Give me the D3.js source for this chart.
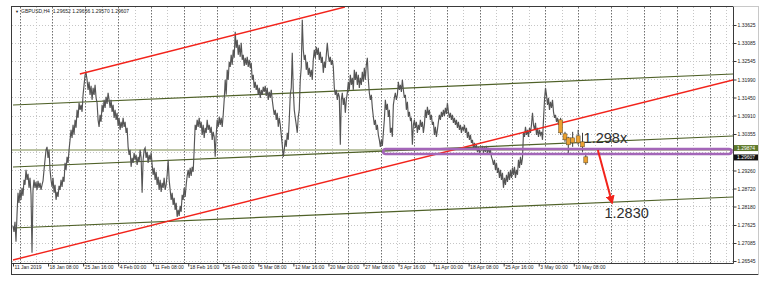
<!DOCTYPE html>
<html>
<head>
<meta charset="utf-8">
<script src="https://cdn.jsdelivr.net/npm/d3@7"></script>
<style>
  html, body { margin: 0; padding: 0; background: #fff; }
  svg { display: block; font-family: "Liberation Sans", Arial, sans-serif; }
</style>
</head>
<body>
<svg id="chart" width="771" height="283"></svg>
<script>
// ---- header / axis labels ----
const headerText = "GBPUSD,H4  1.29652 1.29656 1.29570 1.29607"
const priceTicks = [1.33625, 1.33085, 1.32545, 1.31990, 1.31450, 1.30910, 1.30355,
                    1.29260, 1.28720, 1.28180, 1.27625, 1.27085, 1.26545]
const gridOnlyPrices = [1.29815]
const dateLabels = ["11 Jan 2019", "18 Jan 08:00", "25 Jan 16:00", "4 Feb 00:00", "11 Feb 08:00",
                    "18 Feb 16:00", "26 Feb 00:00", "5 Mar 08:00", "12 Mar 16:00", "20 Mar 00:00",
                    "27 Mar 08:00", "3 Apr 16:00", "11 Apr 00:00", "18 Apr 08:00", "25 Apr 16:00",
                    "3 May 00:00", "10 May 08:00"]
const barsPerLabel = 32      // H4 bars between two time labels
const firstMondayBar = 6     // 14 Jan 00:00
const barsPerWeek = 30

// ---- GBPUSD H4 price path (evenly spaced over bars 0..499) ----
const pricesJan = [1.2760,1.2742,1.2772,1.2712,1.2793,1.2859,1.2829,1.2868,1.2838,1.2874,
  1.2850,1.2898,1.2883,1.2928,1.2898,1.2916,1.2874,1.2904,1.2853,1.2679,
  1.2868,1.2898,1.2874,1.2892,1.2868,1.2895,1.2874,1.2889,1.2868,1.2883,
  1.2895,1.2928,1.2958,1.2988,1.2997,1.2964,1.2988,1.2928,1.2898,1.2877,
  1.2904,1.2859,1.2883,1.2838,1.2862,1.2847,1.2880,1.2868,1.2898,1.2877,
  1.2907,1.2892,1.2949,1.2928,1.2967,1.2949,1.2988,1.3018,1.3048,1.3024,
  1.3063,1.3033,1.3078,1.3054,1.3108,1.3084,1.3129,1.3108,1.3123,1.3102,
  1.3153,1.3183,1.3213,1.3219,1.3198,1.3168,1.3192,1.3153,1.3180,1.3138,
  1.3174,1.3153,1.3183,1.3144,1.3129,1.3078,1.3057,1.3093,1.3072,1.3123,
  1.3102,1.3138,1.3114,1.3147,1.3126,1.3159,1.3138,1.3114,1.3138,1.3102,
  1.3123,1.3084,1.3108,1.3078,1.3099]
const pricesFeb = [1.3060,1.3084,1.3048,1.3072,1.3054,1.3084,1.3057,1.3072,1.3039,1.3054,
  1.2997,1.2973,1.2988,1.2937,1.2964,1.2949,1.2979,1.2958,1.2973,1.2943,
  1.2967,1.2952,1.2988,1.2964,1.2859,1.2958,1.2988,1.2994,1.2964,1.2982,
  1.2949,1.2973,1.2958,1.2979,1.2943,1.2913,1.2934,1.2898,1.2922,1.2883,
  1.2907,1.2868,1.2898,1.2862,1.2889,1.2874,1.2904,1.2868,1.2883,1.2913,
  1.2958,1.2898,1.2868,1.2838,1.2859,1.2823,1.2844,1.2808,1.2829,1.2787,
  1.2808,1.2790,1.2820,1.2802,1.2853,1.2838,1.2874,1.2847,1.2883,1.2910,
  1.2928,1.2904,1.2934,1.2910,1.2937,1.2922,1.2988,1.3063,1.3048,1.3078,
  1.3057,1.3084,1.3054,1.3072,1.3033,1.3063,1.3024,1.3054,1.3039,1.3078,
  1.3048,1.3063,1.3039,1.3057,1.3018,1.3042,1.3027,1.2967,1.3033,1.3078,
  1.3057,1.3087,1.3063,1.3084,1.3057,1.3093,1.3138,1.3198,1.3153,1.3228]
const pricesMar = [1.3198,1.3252,1.3237,1.3273,1.3243,1.3288,1.3264,1.3342,1.3294,1.3318,
  1.3273,1.3303,1.3267,1.3309,1.3258,1.3273,1.3240,1.3264,1.3243,1.3267,
  1.3237,1.3258,1.3234,1.3249,1.3198,1.3213,1.3174,1.3192,1.3168,1.3183,
  1.3153,1.3174,1.3144,1.3168,1.3153,1.3177,1.3162,1.3180,1.3150,1.3174,
  1.3138,1.3162,1.3144,1.3168,1.3138,1.3114,1.3093,1.3108,1.3078,1.3099,
  1.3057,1.3084,1.3063,1.3033,1.3003,1.2967,1.2988,1.3018,1.2997,1.3039,
  1.3018,1.3078,1.3153,1.3174,1.3279,1.3168,1.3108,1.3084,1.3063,1.3039,
  1.3087,1.3108,1.3198,1.3237,1.3378,1.3288,1.3258,1.3273,1.3228,1.3252,
  1.3213,1.3234,1.3207,1.3228,1.3198,1.3258,1.3288,1.3264,1.3297,1.3273,
  1.3294,1.3258,1.3282,1.3249,1.3267,1.3219,1.3252,1.3234,1.3273,1.3309,
  1.3273,1.3252,1.3267,1.3243,1.3258,1.3237,1.3174,1.3153,1.3168,1.3138]
const pricesApr = [1.3159,1.3147,1.3003,1.3138,1.3159,1.3123,1.3144,1.3099,1.3138,1.3159,
  1.3192,1.3168,1.3213,1.3183,1.3204,1.3168,1.3228,1.3198,1.3222,1.3183,
  1.3213,1.3174,1.3204,1.3183,1.3222,1.3192,1.3234,1.3198,1.3243,1.3264,
  1.3198,1.3159,1.3138,1.3153,1.3114,1.3087,1.3063,1.3078,1.3048,1.3063,
  1.3033,1.3018,1.2997,1.3018,1.3000,1.3039,1.3078,1.3138,1.3108,1.3126,
  1.3087,1.3108,1.3039,1.3054,1.3027,1.3123,1.3144,1.3159,1.3138,1.3153,
  1.3192,1.3168,1.3183,1.3162,1.3198,1.3168,1.3144,1.3153,1.3108,1.3132,
  1.3087,1.3102,1.3078,1.3084,1.3003,1.3063,1.3078,1.3054,1.3072,1.3039,
  1.3063,1.3048,1.3078,1.3057,1.3072,1.3039,1.3063,1.3108,1.3084,1.3117,
  1.3093,1.3108,1.3078,1.3093,1.3063,1.3072,1.3033,1.3057,1.3027,1.3048,
  1.3072,1.3093,1.3078,1.3102,1.3087,1.3108,1.3090,1.3114,1.3096,1.3129]
const pricesMay = [1.3102,1.3084,1.3099,1.3078,1.3093,1.3069,1.3084,1.3063,1.3078,1.3054,
  1.3072,1.3048,1.3063,1.3039,1.3057,1.3048,1.3063,1.3039,1.3054,1.3024,
  1.3042,1.3018,1.3033,1.3009,1.3018,1.2994,1.3009,1.2988,1.3003,1.2982,
  1.2997,1.2979,1.2994,1.2988,1.3000,1.2979,1.2997,1.2982,1.3000,1.2979,
  1.2994,1.2979,1.2988,1.2967,1.2958,1.2943,1.2958,1.2928,1.2949,1.2919,
  1.2934,1.2904,1.2928,1.2898,1.2919,1.2874,1.2904,1.2883,1.2913,1.2892,
  1.2922,1.2898,1.2928,1.2904,1.2934,1.2913,1.2937,1.2904,1.2928,1.2913,
  1.2958,1.2934,1.2967,1.2943,1.2964,1.3039,1.3027,1.3057,1.3033,1.3048,
  1.3027,1.3054,1.3039,1.3063,1.3099,1.3063,1.3048,1.3069,1.3033,1.3054,
  1.3027,1.3048,1.3033,1.3042,1.3018,1.3078,1.3138,1.3174,1.3153,1.3123,
  1.3144,1.3108,1.3132,1.3114,1.3138,1.3102,1.3084,1.3093,1.3072,1.3084,1.3063,1.3078]
const traceEndBar = 499

// last candles (orange bodies)
const candleBars  = [500, 504, 507, 511, 516, 520, 523]
const candleOpen  = [1.3078, 1.3036, 1.3024, 1.3024, 1.3030, 1.3012, 1.2967]
const candleHigh  = [1.3084, 1.3042, 1.3027, 1.3042, 1.3048, 1.3039, 1.2973]
const candleLow   = [1.3033, 1.3012, 1.2973, 1.2997, 1.3003, 1.2982, 1.2943]
const candleClose = [1.3039, 1.3018, 1.3003, 1.3009, 1.3009, 1.2997, 1.2949]

// ---- drawn objects: [bar, price] end points ----
const redUpper   = [[61, 1.32155], [303, 1.34165]]
const redLower   = [[0, 1.26575], [657.4, 1.31975]]
const greenTop   = [[0, 1.31225], [657.4, 1.32155]]
const greenMid   = [[0, 1.29365], [657.4, 1.30295]]
const greenLow   = [[0, 1.27535], [657.4, 1.28465]]
const levelPrice = 1.29874
const bidPrice   = 1.29607
const zoneBars   = [338, 656]
const zonePrices = [1.29905, 1.29755]
const targetArrow = [[534, 1.29875], [547, 1.2829]]
const notes = [
  { bar: 521, price: 1.3008, text: "1.298x" },
  { bar: 540, price: 1.2784, text: "1.2830" }
]

// ---- drawing ----
const W = 771, H = 283
const plot = { left: 12, right: 733, top: 7, bottom: 263 }

const x = d3.scaleLinear().domain([0, 657.4]).range([13, 733])
const y = d3.scaleLinear().domain([1.26545, 1.33625]).range([261, 25])
const fmt = d3.format(".5f")

const svg = d3.select("#chart")
svg.append("rect").attr("width", W).attr("height", H).attr("fill", "#fff")

const defs = svg.append("defs")
defs.append("clipPath").attr("id", "plotClip").append("rect")
  .attr("x", plot.left).attr("y", plot.top)
  .attr("width", plot.right - plot.left).attr("height", plot.bottom - plot.top)
defs.append("marker").attr("id", "arrowHead")
  .attr("viewBox", "0 0 10 10").attr("refX", 8).attr("refY", 5)
  .attr("markerWidth", 4.5).attr("markerHeight", 4.5)
  .attr("orient", "auto")
  .append("path").attr("d", "M0,0L10,5L0,10z").attr("fill", "#f2231b")

const g = svg.append("g").attr("clip-path", "url(#plotClip)")

// grid
g.selectAll(".hgrid").data(priceTicks.concat(gridOnlyPrices)).join("line")
  .attr("x1", plot.left).attr("x2", plot.right)
  .attr("y1", d => Math.round(y(d)) + 0.5).attr("y2", d => Math.round(y(d)) + 0.5)
  .attr("stroke", "#c6c6c6").attr("stroke-dasharray", "1,2")

const weekBars = d3.range(firstMondayBar, 660, barsPerWeek)
const midBars = d3.range(firstMondayBar + barsPerWeek / 2, 660, barsPerWeek)
g.selectAll(".vmid").data(midBars).join("line")
  .attr("x1", d => Math.round(x(d)) + 0.5).attr("x2", d => Math.round(x(d)) + 0.5)
  .attr("y1", plot.top).attr("y2", plot.bottom)
  .attr("stroke", "#c6c6c6").attr("stroke-dasharray", "1,2")
g.selectAll(".vweek").data(weekBars).join("line")
  .attr("x1", d => Math.round(x(d)) + 0.5).attr("x2", d => Math.round(x(d)) + 0.5)
  .attr("y1", plot.top).attr("y2", plot.bottom)
  .attr("stroke", "#6e6e6e").attr("stroke-dasharray", "1.5,1.5")

// pale horizontal level
g.append("line")
  .attr("x1", plot.left).attr("x2", plot.right)
  .attr("y1", y(levelPrice)).attr("y2", y(levelPrice))
  .attr("stroke", "#bcc4a4").attr("stroke-width", 2)

const seg = d3.line().x(d => x(d[0])).y(d => y(d[1]))

// olive trend lines
;[greenTop, greenMid, greenLow].forEach(l => {
  g.append("path").attr("d", seg(l)).attr("fill", "none")
    .attr("stroke", "#4f6128").attr("stroke-width", 1.2)
})

// price path
const trace = pricesJan.concat(pricesFeb, pricesMar, pricesApr, pricesMay)
const sampleBar = d3.scaleLinear().domain([0, trace.length - 1]).range([0, traceEndBar])
g.append("path")
  .attr("d", d3.line().x((d, i) => x(sampleBar(i))).y(d => y(d))(trace))
  .attr("fill", "none").attr("stroke", "#555").attr("stroke-width", 1.15)

// red channel
;[redUpper, redLower].forEach(l => {
  g.append("path").attr("d", seg(l)).attr("fill", "none")
    .attr("stroke", "#f2231b").attr("stroke-width", 1.4)
})

// candles
candleBars.forEach((b, i) => {
  const cx = x(b)
  g.append("line").attr("x1", cx).attr("x2", cx)
    .attr("y1", y(candleHigh[i])).attr("y2", y(candleLow[i]))
    .attr("stroke", "#3a3a3a").attr("stroke-width", 1)
  const top = y(Math.max(candleOpen[i], candleClose[i]))
  const bot = y(Math.min(candleOpen[i], candleClose[i]))
  g.append("rect").attr("x", cx - 2).attr("y", top).attr("width", 4)
    .attr("height", Math.max(2, bot - top))
    .attr("fill", "#eba030").attr("stroke", "#5a4a2a").attr("stroke-width", 0.5)
})

// purple zone
g.append("rect")
  .attr("x", x(zoneBars[0])).attr("y", y(zonePrices[0]))
  .attr("width", x(zoneBars[1]) - x(zoneBars[0]))
  .attr("height", y(zonePrices[1]) - y(zonePrices[0]))
  .attr("rx", 2.5)
  .attr("fill", "none").attr("stroke", "#a366b8").attr("stroke-width", 2.6)

// target arrow
g.append("path").attr("d", seg(targetArrow))
  .attr("stroke", "#f2231b").attr("stroke-width", 2).attr("fill", "none")
  .attr("marker-end", "url(#arrowHead)")

// notes
g.selectAll(".note").data(notes).join("text")
  .attr("x", d => x(d.bar)).attr("y", d => y(d.price))
  .attr("font-size", 14.5).attr("fill", "#2e2e2e")
  .text(d => d.text)

// header
svg.append("text").attr("x", 15).attr("y", 13).attr("font-size", 4).attr("fill", "#222").text("▼")
svg.append("text").attr("x", 21).attr("y", 13).attr("font-size", 5).attr("fill", "#222")
  .attr("xml:space", "preserve").text(headerText)

// frame
const frame = svg.append("g").attr("stroke", "#3a3a3a").attr("stroke-width", 1)
frame.append("line").attr("x1", 11.5).attr("x2", 11.5).attr("y1", 6).attr("y2", 275)
frame.append("line").attr("x1", 11.5).attr("x2", 733.5).attr("y1", 6.5).attr("y2", 6.5)
frame.append("line").attr("x1", 733.5).attr("x2", 733.5).attr("y1", 6.5).attr("y2", 263.5)
frame.append("line").attr("x1", 11.5).attr("x2", 733.5).attr("y1", 263.5).attr("y2", 263.5)
frame.append("line").attr("x1", 11.5).attr("x2", 758.5).attr("y1", 274.5).attr("y2", 274.5)
svg.append("line").attr("x1", 758.5).attr("x2", 758.5).attr("y1", 6).attr("y2", 274.5)
  .attr("stroke", "#c8c8c8")
svg.append("line").attr("x1", 733.5).attr("x2", 758.5).attr("y1", 6.5).attr("y2", 6.5)
  .attr("stroke", "#c8c8c8")

// price axis
const yAxis = svg.append("g").attr("transform", "translate(733.5,0)")
  .call(d3.axisRight(y).tickValues(priceTicks).tickFormat(fmt).tickSize(3).tickPadding(1))
yAxis.select(".domain").remove()
yAxis.selectAll("line").attr("stroke", "#3a3a3a")
yAxis.selectAll("text").attr("font-size", 5).attr("font-family", "Liberation Sans, Arial, sans-serif")
  .attr("fill", "#222").attr("dy", "0.35em")

// time axis
const labelBars = dateLabels.map((d, i) => i * barsPerLabel)
const xAxis = svg.append("g").attr("transform", "translate(0,263.5)")
  .call(d3.axisBottom(x).tickValues(labelBars).tickFormat((d, i) => dateLabels[i]).tickSize(3))
xAxis.select(".domain").remove()
xAxis.selectAll("line").attr("stroke", "#3a3a3a")
xAxis.selectAll("text").attr("font-size", 5).attr("font-family", "Liberation Sans, Arial, sans-serif")
  .attr("fill", "#222").attr("text-anchor", "start").attr("x", 1).attr("y", 5).attr("dy", 0)

// highlighted price labels
const tags = [
  { price: levelPrice, bg: "#5f7a2c", shift: -5 },
  { price: bidPrice, bg: "#111", shift: -4.5 }
]
tags.forEach(t => {
  const ty = y(t.price) + t.shift
  svg.append("rect").attr("x", 734).attr("y", ty).attr("width", 24).attr("height", 6).attr("fill", t.bg)
  svg.append("text").attr("x", 737).attr("y", ty + 4.8).attr("font-size", 5).attr("fill", "#fff")
    .text(fmt(t.price))
})
</script>
</body>
</html>
